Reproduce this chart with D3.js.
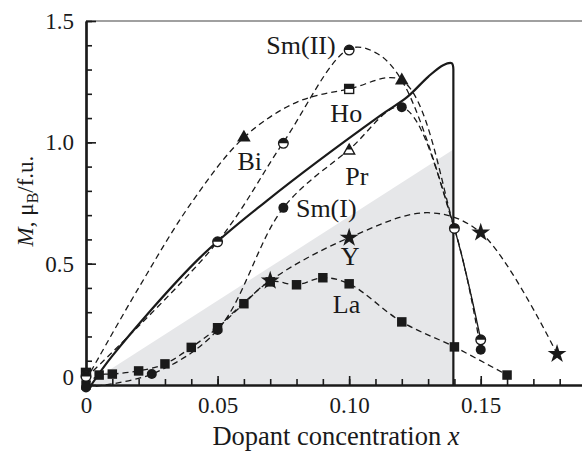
<!DOCTYPE html>
<html>
<head>
<meta charset="utf-8">
<script src="https://cdn.jsdelivr.net/npm/d3@7"></script>
<style>
  body { margin: 0; background: #fff; }
  svg { display: block; }
</style>
</head>
<body>
<script>
// tick labels
var xMajor = [0, 0.05, 0.10, 0.15];
var xMajorLabels = ["0", "0.05", "0.10", "0.15"];
var yMajor = [0, 0.5, 1.0, 1.5];
var yMajorLabels = ["0", "0.5", "1.0", "1.5"];

// guide curves (dashed)
var bihoCurveX = [0, 0.02, 0.04, 0.06, 0.08, 0.10, 0.12, 0.14, 0.15];
var bihoCurveY = [0.02, 0.40, 0.75, 1.02, 1.165, 1.22, 1.255, 0.645, 0.186];
var smIICurveX = [0, 0.05, 0.075, 0.10, 0.11, 0.12, 0.14, 0.15];
var smIICurveY = [0.03, 0.59, 1.0, 1.385, 1.37, 1.255, 0.645, 0.186];
var smIPrCurveX = [0, 0.025, 0.05, 0.075, 0.10, 0.12, 0.14, 0.15];
var smIPrCurveY = [-0.01, 0.045, 0.227, 0.73, 0.97, 1.145, 0.645, 0.145];
var yCurveX = [0.05, 0.07, 0.10, 0.13, 0.15, 0.179];
var yCurveY = [0.236, 0.43, 0.607, 0.71, 0.628, 0.128];

// solid line
var solidX = [0.002, 0.01, 0.0433, 0.0688, 0.1118, 0.122, 0.13, 0.1357, 0.139, 0.1396];
var solidY = [0.0, 0.12, 0.525, 0.76, 1.11, 1.186, 1.27, 1.318, 1.326, 1.30];
var solidDropX = 0.1396;

// shaded region
var shadeX = [0, 0.1396, 0.1396];
var shadeY = [0, 0.97, 0];

// measured points
var smIIx = [0, 0.05, 0.075, 0.10, 0.14, 0.15];
var smIIy = [0.035, 0.59, 0.996, 1.38, 0.645, 0.186];
var hoX = [0, 0.10];
var hoY = [0.05, 1.22];
var biX = [0.06, 0.12];
var biY = [1.02, 1.255];
var prX = [0.10];
var prY = [0.97];
var smIX = [0, 0.025, 0.05, 0.075, 0.12, 0.15];
var smIY = [-0.01, 0.045, 0.227, 0.73, 1.145, 0.145];
var yX = [0.07, 0.10, 0.15, 0.179];
var yY = [0.43, 0.607, 0.628, 0.128];
var laX = [0, 0.005, 0.01, 0.02, 0.03, 0.04, 0.05, 0.06, 0.07, 0.08, 0.09, 0.10, 0.12, 0.14, 0.16];
var laY = [0.0, 0.041, 0.045, 0.058, 0.087, 0.155, 0.236, 0.335, 0.425, 0.413, 0.442, 0.417, 0.26, 0.157, 0.041];

// series labels
var labelText = ["Sm(II)", "Ho", "Bi", "Pr", "Sm(I)", "Y", "La"];
var labelX = [0.0817, 0.0989, 0.0622, 0.1029, 0.0913, 0.1004, 0.099];
var labelY = [1.364, 1.084, 0.886, 0.824, 0.692, 0.494, 0.297];

var W = 582, H = 451;
var font = "'Liberation Serif', 'Times New Roman', serif";
var ink = "#1a1a1a";

var svg = d3.select("body").append("svg")
    .attr("width", W)
    .attr("height", H)
    .style("font-family", font);

var x = d3.scaleLinear().domain([0, 0.19]).range([86, 586]);
var y = d3.scaleLinear().domain([0, 1.5]).range([385, 21]);

function pts(xs, ys) {
  return xs.map(function (d, i) { return [d, ys[i]]; });
}

// shaded triangle
svg.append("path")
    .attr("d", d3.line().x(function (d) { return x(d[0]); }).y(function (d) { return y(d[1]); })(pts(shadeX, shadeY)) + "Z")
    .attr("fill", "#e6e7e9");

// top frame line
svg.append("line")
    .attr("x1", x(0)).attr("x2", W)
    .attr("y1", y(1.5)).attr("y2", y(1.5))
    .attr("stroke", "#808080")
    .attr("stroke-width", 1.6);

var curve = d3.line()
    .x(function (d) { return x(d[0]); })
    .y(function (d) { return y(d[1]); })
    .curve(d3.curveCatmullRom.alpha(0.5));

var guides = [
  pts(bihoCurveX, bihoCurveY),
  pts(smIICurveX, smIICurveY),
  pts(smIPrCurveX, smIPrCurveY),
  pts(yCurveX, yCurveY),
  pts(laX, laY)
];

svg.selectAll("path.guide")
    .data(guides)
    .enter()
    .append("path")
    .attr("class", "guide")
    .attr("d", curve)
    .attr("fill", "none")
    .attr("stroke", ink)
    .attr("stroke-width", 1.3)
    .attr("stroke-dasharray", "6,4");

// solid curve with vertical drop
svg.append("path")
    .attr("d", curve(pts(solidX, solidY)) + "L" + x(solidDropX) + "," + y(0))
    .attr("fill", "none")
    .attr("stroke", ink)
    .attr("stroke-width", 2.2)
    .attr("stroke-linejoin", "round");

// axes
var xAxisMinor = d3.axisBottom(x)
    .tickValues(d3.range(0, 19).map(function (i) { return i / 100; }))
    .tickSizeInner(-6).tickSizeOuter(0)
    .tickFormat("");
var xAxisMajor = d3.axisBottom(x)
    .tickValues(xMajor)
    .tickSizeInner(-9).tickSizeOuter(0)
    .tickPadding(12)
    .tickFormat(function (d, i) { return xMajorLabels[i]; });
var yAxisMinor = d3.axisLeft(y)
    .tickValues(d3.range(0, 16).map(function (i) { return i / 10; }))
    .tickSizeInner(-6).tickSizeOuter(0)
    .tickFormat("");
var yAxisMajor = d3.axisLeft(y)
    .tickValues(yMajor)
    .tickSizeInner(-10).tickSizeOuter(0)
    .tickPadding(12)
    .tickFormat(function (d, i) { return yMajorLabels[i]; });

function styleAxis(g) {
  g.attr("font-family", null);
  g.select(".domain").attr("stroke", ink).attr("stroke-width", 2.2);
  g.selectAll(".tick line").attr("stroke", ink).attr("stroke-width", 1.6);
  g.selectAll(".tick text")
      .attr("fill", ink)
      .style("font-family", font)
      .style("font-size", "23px");
}

svg.append("g").attr("transform", "translate(0," + y(0) + ")").call(xAxisMinor).call(styleAxis);
svg.append("g").attr("transform", "translate(0," + y(0) + ")").call(xAxisMajor).call(styleAxis);
svg.append("g").attr("transform", "translate(" + x(0) + ",0)").call(yAxisMinor).call(styleAxis);
var gy = svg.append("g").attr("transform", "translate(" + x(0) + ",0)").call(yAxisMajor).call(styleAxis);
gy.selectAll(".tick text").filter(function (d) { return d === 0; }).attr("dy", "-0.02em");

// markers
function place(xs, ys) {
  return pts(xs, ys).map(function (d) { return "translate(" + x(d[0]) + "," + y(d[1]) + ")"; });
}

function halfCircle(g, r) {
  g.append("circle").attr("r", r).attr("fill", "#fff").attr("stroke", ink).attr("stroke-width", 1.4);
  g.append("path").attr("d", "M" + (-r) + ",0A" + r + "," + r + " 0 0 1 " + r + ",0Z").attr("fill", ink);
}
function halfSquare(g, s) {
  g.append("rect").attr("x", -s).attr("y", -s).attr("width", 2 * s).attr("height", 2 * s)
      .attr("fill", "#fff").attr("stroke", ink).attr("stroke-width", 1.4);
  g.append("rect").attr("x", -s).attr("y", -s).attr("width", 2 * s).attr("height", s).attr("fill", ink);
}
function halfTriangle(g, s) {
  g.append("path").attr("d", "M0," + (-s) + "L" + s + "," + (s * 0.8) + "L" + (-s) + "," + (s * 0.8) + "Z")
      .attr("fill", "#fff").attr("stroke", ink).attr("stroke-width", 1.4);
  g.append("path").attr("d", "M0," + (-s) + "L" + (s * 0.5) + ",0L" + (-s * 0.5) + ",0Z").attr("fill", ink);
}

svg.selectAll("path.la").data(place(laX, laY)).enter().append("path")
    .attr("class", "la").attr("transform", function (d) { return d; })
    .attr("d", d3.symbol().type(d3.symbolSquare).size(90)()).attr("fill", ink);

svg.selectAll("path.star").data(place(yX, yY)).enter().append("path")
    .attr("class", "star").attr("transform", function (d) { return d; })
    .attr("d", d3.symbol().type(d3.symbolStar).size(110)()).attr("fill", ink);

svg.selectAll("path.bi").data(place(biX, biY)).enter().append("path")
    .attr("class", "bi").attr("transform", function (d) { return d; })
    .attr("d", d3.symbol().type(d3.symbolTriangle).size(80)()).attr("fill", ink);

svg.selectAll("g.ho").data(place(hoX, hoY)).enter().append("g")
    .attr("class", "ho").attr("transform", function (d) { return d; })
    .each(function () { halfSquare(d3.select(this), 4.5); });

svg.selectAll("g.pr").data(place(prX, prY)).enter().append("g")
    .attr("class", "pr").attr("transform", function (d) { return d; })
    .each(function () { halfTriangle(d3.select(this), 5.5); });

svg.selectAll("circle.smI").data(place(smIX, smIY)).enter().append("circle")
    .attr("class", "smI").attr("transform", function (d) { return d; })
    .attr("r", 5).attr("fill", ink);

svg.selectAll("g.smII").data(place(smIIx, smIIy)).enter().append("g")
    .attr("class", "smII").attr("transform", function (d) { return d; })
    .each(function () { halfCircle(d3.select(this), 4.8); });

// series labels
svg.selectAll("text.lab")
    .data(labelText)
    .enter()
    .append("text")
    .attr("class", "lab")
    .attr("x", function (d, i) { return x(labelX[i]); })
    .attr("y", function (d, i) { return y(labelY[i]); })
    .attr("text-anchor", "middle")
    .attr("fill", ink)
    .style("font-size", "26px")
    .text(function (d) { return d; });

// axis titles
var xt = svg.append("text")
    .attr("x", 336).attr("y", 445)
    .attr("text-anchor", "middle")
    .attr("fill", ink)
    .style("font-size", "26.5px");
xt.append("tspan").text("Dopant concentration ");
xt.append("tspan").style("font-style", "italic").text("x");

var yt = svg.append("text")
    .attr("transform", "translate(33,201) rotate(-90)")
    .attr("text-anchor", "middle")
    .attr("fill", ink)
    .style("font-size", "23px");
yt.append("tspan").style("font-style", "italic").text("M");
yt.append("tspan").text(", \u03bc");
yt.append("tspan").attr("dy", 5).style("font-size", "16px").text("B");
yt.append("tspan").attr("dy", -5).text("/f.u.");
</script>
</body>
</html>
